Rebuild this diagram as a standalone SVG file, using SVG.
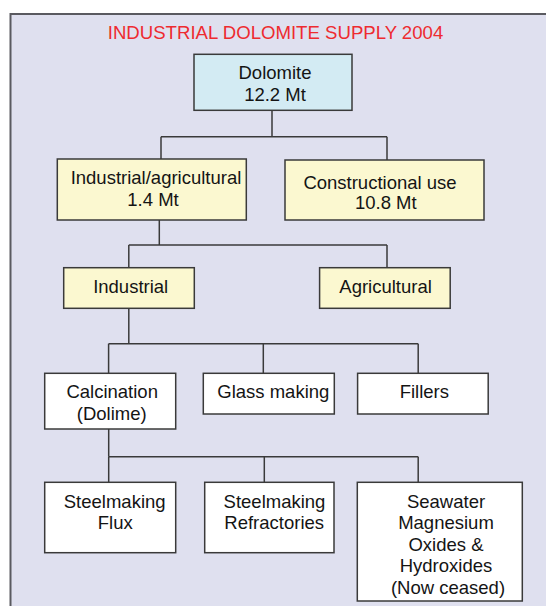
<svg xmlns="http://www.w3.org/2000/svg" width="546" height="606" viewBox="0 0 546 606">
<style>
.box{stroke:#3a3a3a;stroke-width:1.5}
.w{fill:#ffffff}
.y{fill:#fbf8d0}
.b{fill:#d3ebf3}
text{font-family:"Liberation Sans",Arial,sans-serif;font-size:18.5px;fill:#141414;text-anchor:middle}
.title{fill:#ee2b30;font-size:18.6px}
.conn line{stroke:#3a3a3a;stroke-width:1.5}
</style>
<rect x="0" y="0" width="546" height="606" fill="#ffffff"/>
<rect x="10.5" y="14" width="600" height="650" fill="#dfe0ef" stroke="#5a5a60" stroke-width="2"/>
<text class="title" x="275.5" y="39">INDUSTRIAL DOLOMITE SUPPLY 2004</text>
<g id="connectors" class="conn">
<line x1="272" y1="110" x2="272" y2="136.7"/>
<line x1="161" y1="136.7" x2="387" y2="136.7"/>
<line x1="161" y1="136.7" x2="161" y2="159"/>
<line x1="387" y1="136.7" x2="387" y2="160"/>
<line x1="159.3" y1="220" x2="159.3" y2="245"/>
<line x1="128.8" y1="245" x2="387" y2="245"/>
<line x1="128.8" y1="245" x2="128.8" y2="268"/>
<line x1="387" y1="245" x2="387" y2="268"/>
<line x1="128.8" y1="308" x2="128.8" y2="343.7"/>
<line x1="108.6" y1="343.7" x2="418.2" y2="343.7"/>
<line x1="108.6" y1="343.7" x2="108.6" y2="373.3"/>
<line x1="263.3" y1="343.7" x2="263.3" y2="373.3"/>
<line x1="418.2" y1="343.7" x2="418.2" y2="373.3"/>
<line x1="108.7" y1="429" x2="108.7" y2="456.7"/>
<line x1="108.7" y1="456.7" x2="418.2" y2="456.7"/>
<line x1="108.7" y1="456.7" x2="108.7" y2="482.3"/>
<line x1="264.3" y1="456.7" x2="264.3" y2="482.3"/>
<line x1="418.2" y1="456.7" x2="418.2" y2="482.3"/>
</g>
<g id="dolomite">
<rect class="box b" x="194" y="54.3" width="158" height="56"/>
<text x="275" y="79">Dolomite</text>
<text x="275" y="101">12.2 Mt</text>
</g>
<g id="indagri">
<rect class="box y" x="57.3" y="159" width="189" height="61"/>
<text x="156" y="184">Industrial/agricultural</text>
<text x="153" y="205.7">1.4 Mt</text>
</g>
<g id="construction">
<rect class="box y" x="285" y="160" width="199" height="60"/>
<text x="380" y="189">Constructional use</text>
<text x="385.8" y="209.3">10.8 Mt</text>
</g>
<g id="industrial">
<rect class="box y" x="63.7" y="267.7" width="130.6" height="40.6"/>
<text x="130.7" y="293.3">Industrial</text>
</g>
<g id="agricultural">
<rect class="box y" x="319.6" y="267.7" width="130.6" height="40.6"/>
<text x="385.6" y="293.3">Agricultural</text>
</g>
<g id="calcination">
<rect class="box w" x="44.7" y="373.3" width="131" height="55.7"/>
<text x="112.2" y="397.7">Calcination</text>
<text x="111.7" y="420">(Dolime)</text>
</g>
<g id="glass">
<rect class="box w" x="203.3" y="373.3" width="131" height="40.7"/>
<text x="273.3" y="397.7">Glass making</text>
</g>
<g id="fillers">
<rect class="box w" x="357.6" y="373.3" width="130.6" height="40.7"/>
<text x="424.3" y="397.7">Fillers</text>
</g>
<g id="flux">
<rect class="box w" x="44.7" y="482.3" width="131" height="70.4"/>
<text x="114.7" y="507.7">Steelmaking</text>
<text x="115.2" y="529">Flux</text>
</g>
<g id="refractories">
<rect class="box w" x="204.7" y="482.3" width="129.3" height="70.4"/>
<text x="274.5" y="507.7">Steelmaking</text>
<text x="274.2" y="529">Refractories</text>
</g>
<g id="seawater">
<rect class="box w" x="357.3" y="482.3" width="165" height="118.7"/>
<text x="446" y="507.7">Seawater</text>
<text x="446" y="529.2">Magnesium</text>
<text x="446" y="550.7">Oxides &amp;</text>
<text x="446" y="572.1">Hydroxides</text>
<text x="448" y="593.5">(Now ceased)</text>
</g>
</svg>
